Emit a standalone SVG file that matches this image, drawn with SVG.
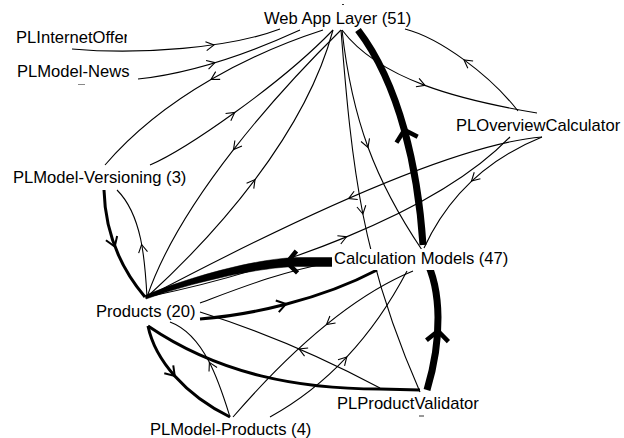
<svg xmlns="http://www.w3.org/2000/svg" xmlns:xlink="http://www.w3.org/1999/xlink" width="624" height="438" viewBox="0 0 624 438">
<style>
  .lbl { font-family: "Liberation Sans", Arial, sans-serif; font-size: 16.6px; fill: #000; }
  .e { fill: none; stroke: #000; stroke-width: 1.1; }
  .m { fill: none; stroke: #000; stroke-width: 3; }
  .k { fill: none; stroke: #000; stroke-width: 7; }
  .kf { fill: #000; stroke: #000; stroke-width: 0.5; }
  .ah { fill: none; stroke: #000; stroke-width: 1.1; }
  .ahm { fill: none; stroke: #000; stroke-width: 2; }
  .ahk { fill: none; stroke: #000; stroke-width: 4.5; }
</style>
<defs>
  <polyline id="a1" class="ah" points="-8,-4.5 0,0 -8,4.5"/>
  <polyline id="a2" class="ahm" points="-9,-6 0,0 -9,6"/>
  <polyline id="a3" class="ahk" points="-10,-11 0,0 -10,11"/>
  <clipPath id="clipOffer"><rect x="0" y="20" width="127" height="40"/></clipPath>
</defs>
<rect width="624" height="438" fill="#fff"/>
<g id="connectors">
  <path class="e" d="M72,49 C140,55 230,48 280,29"/>
  <path class="e" d="M138,79 C175,75 230,62 300,30"/>
  <path class="e" d="M323,30 C255,52 165,95 105,165"/>
  <path class="e" d="M150,165 C185,150 280,85 333,30"/>
  <path class="e" d="M341,30 C280,90 180,200 147,297"/>
  <path class="e" d="M147,297 C215,235 305,135 333,30"/>
  <path class="e" d="M342,30 C352,120 375,180 422,250"/>
  <path class="e" d="M341,30 C352,170 362,260 420,392"/>
  <path class="e" d="M342,30 C380,80 460,100 537,113"/>
  <path class="e" d="M518,111 C490,75 440,38 405,29"/>
  <path class="k" d="M423,245 C418,170 400,85 358,30"/>
  <path class="k" d="M427,390 C442,340 442,290 425,258"/>
  <path class="m" d="M104,190 C105,230 118,265 145,297"/>
  <path class="e" d="M147,297 C145,260 142,215 117,190"/>
  <path class="kf" d="M333,257.5 L300,257.5 C260,257.5 190,276.5 145,295.5 L146,299 C190,283 260,266.5 300,266.5 L333,266.5 Z"/>
  <path class="m" d="M200,319 C250,315 320,300 377,270"/>
  <path class="e" d="M200,303 C240,288 280,272 333,262"/>
  <path class="e" d="M147,297 C270,272 435,215 510,137"/>
  <path class="e" d="M542,137 C445,145 255,240 147,297"/>
  <path class="m" d="M148,326 C155,360 185,395 230,417"/>
  <path class="e" d="M230,417 C220,385 205,335 170,322"/>
  <path class="m" d="M148,326 C220,375 300,389 380,389 L420,390"/>
  <path class="e" d="M380,388 Q290,340 200,312"/>
  <path class="e" d="M413,271 Q330,305 233,417"/>
  <path class="e" d="M270,417 Q355,370 407,271"/>
  <path class="e" d="M542,137 Q460,170 424,248"/>
  <line x1="78" y1="84.5" x2="85" y2="84.5" stroke="#888" stroke-width="1"/>
  <line x1="419" y1="416" x2="424" y2="416" stroke="#333" stroke-width="1"/>
  <line x1="342" y1="4.5" x2="344" y2="4.5" stroke="#333" stroke-width="1"/>
  <use xlink:href="#a1" transform="translate(214,45) rotate(-8)"/>
  <use xlink:href="#a1" transform="translate(215,62.6) rotate(-16)"/>
  <use xlink:href="#a1" transform="translate(211,79.5) rotate(150)"/>
  <use xlink:href="#a1" transform="translate(234.7,112.5) rotate(-35.7)"/>
  <use xlink:href="#a1" transform="translate(233.5,149.6) rotate(128)"/>
  <use xlink:href="#a1" transform="translate(255,179.6) rotate(-53)"/>
  <use xlink:href="#a1" transform="translate(368,147.5) rotate(70)"/>
  <use xlink:href="#a1" transform="translate(362.9,214) rotate(79)"/>
  <use xlink:href="#a1" transform="translate(425,85.4) rotate(20.5)"/>
  <use xlink:href="#a1" transform="translate(464,60) rotate(-144)"/>
  <use xlink:href="#a3" transform="translate(404.4,130) rotate(-105.5)"/>
  <use xlink:href="#a3" transform="translate(438,331) rotate(-86.7)"/>
  <use xlink:href="#a2" transform="translate(114.75,246.5) rotate(69)"/>
  <use xlink:href="#a1" transform="translate(141.6,244.5) rotate(-100.6)"/>
  <use xlink:href="#a3" transform="translate(287,262.5) rotate(177)"/>
  <use xlink:href="#a2" transform="translate(286,304) rotate(-14.5)"/>
  <use xlink:href="#a1" transform="translate(346.5,236.8) rotate(-22.3)"/>
  <use xlink:href="#a1" transform="translate(348.6,198.6) rotate(156.4)"/>
  <use xlink:href="#a2" transform="translate(174.75,376) rotate(48.4)"/>
  <use xlink:href="#a1" transform="translate(209.4,362.4) rotate(-117)"/>
  <use xlink:href="#a1" transform="translate(299,348.9) rotate(203.4)"/>
  <use xlink:href="#a1" transform="translate(326.5,324.5) rotate(141)"/>
  <use xlink:href="#a1" transform="translate(346.75,357) rotate(-46.8)"/>
  <use xlink:href="#a1" transform="translate(471.5,181) rotate(136.8)"/>
</g>
<g id="node-webapp"><text class="lbl" x="264" y="24">Web App Layer (51)</text></g>
<g id="node-internetoffer"><text class="lbl" x="16" y="43" clip-path="url(#clipOffer)">PLInternetOffer</text></g>
<g id="node-news"><text class="lbl" x="17" y="77">PLModel-News</text></g>
<g id="node-overview"><text class="lbl" x="456" y="131">PLOverviewCalculator</text></g>
<g id="node-versioning"><text class="lbl" x="13" y="183">PLModel-Versioning (3)</text></g>
<g id="node-calc"><rect x="332" y="249" width="178" height="21" fill="#fff"/><text class="lbl" x="334" y="264">Calculation Models (47)</text></g>
<g id="node-products"><text class="lbl" x="96" y="317">Products (20)</text></g>
<g id="node-modelproducts"><text class="lbl" x="150" y="435">PLModel-Products (4)</text></g>
<g id="node-validator"><text class="lbl" x="337" y="409">PLProductValidator</text></g>
</svg>
